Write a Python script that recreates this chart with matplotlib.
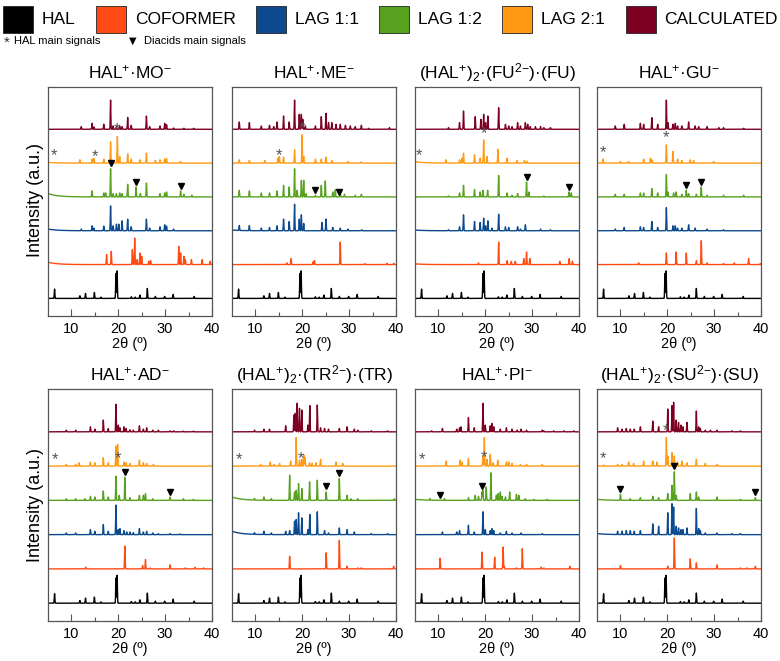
import matplotlib.pyplot as plt
import numpy as np
from matplotlib.patches import Rectangle

plt.rcParams['font.family'] = ['Liberation Sans', 'DejaVu Sans']
plt.rcParams['mathtext.fontset'] = 'custom'
plt.rcParams['mathtext.rm'] = 'Liberation Sans'
plt.rcParams['mathtext.default'] = 'regular'

# series names / colours (bottom to top inside each panel)
series = ["HAL", "COFORMER", "LAG 1:1", "LAG 1:2", "LAG 2:1", "CALCULATED"]
colores = ["#000000", "#ff4a14", "#0b4a8f", "#58a11f", "#ff9a12", "#7d0022"]

# peak lists: (2theta, intensity)
hal = [(6.4, 28), (11.8, 8), (13.0, 15), (14.9, 18), (16.3, 4), (19.5, 75), (19.75, 83), (22.8, 5),
       (23.6, 4), (24.6, 10), (26.2, 30), (27.9, 6), (29.9, 6), (31.7, 12), (36.2, 6)]

mo_calc = [(12.1, 8), (14.4, 18), (14.8, 7), (16.9, 15), (18.35, 88), (18.9, 10), (19.6, 8), (20.3, 10),
           (20.8, 8), (22.0, 36), (22.75, 12), (26.0, 40), (26.7, 8), (28.9, 10), (29.9, 18), (30.3, 14),
           (31.8, 4), (34.0, 3), (36.1, 3)]
mo_l21 = [(11.8, 10), (14.4, 12), (14.8, 14), (16.9, 12), (18.35, 64), (19.8, 80), (20.3, 20), (22.0, 28),
          (22.75, 12), (24.6, 10), (26.0, 30), (27.9, 8), (28.9, 10), (29.9, 12), (30.3, 14), (33.3, 5)]
mo_l12 = [(14.4, 18), (16.9, 12), (17.3, 12), (18.35, 85), (18.9, 10), (19.6, 10), (20.3, 12), (20.8, 10),
          (22.0, 38), (23.8, 30), (24.7, 10), (26.0, 42), (28.9, 10), (29.9, 12), (30.3, 15), (33.3, 18),
          (34.0, 8), (35.7, 5)]
mo_l11 = [(12.1, 5), (14.4, 15), (14.8, 8), (16.9, 14), (18.35, 75), (18.9, 15), (19.6, 20), (20.1, 20),
          (20.8, 30), (22.0, 35), (22.75, 12), (26.0, 35), (26.7, 8), (28.9, 12), (29.9, 18), (30.3, 14),
          (31.8, 5)]
mo_cof = [(17.5, 30), (18.5, 40), (23.0, 45), (23.5, 80), (24.0, 15), (24.6, 35), (25.0, 25), (26.5, 10),
          (26.9, 12), (32.9, 55), (33.3, 35), (34.0, 25), (34.3, 15), (35.6, 15), (37.9, 15), (39.6, 10)]
mo_stars = [6.3, 15.0, 19.8]
mo_tris = [18.35, 23.8, 33.3]
mo_bg = [0, 0.07, 0.05, 0.1, 0.02, 0]

me_calc = [(6.55, 22), (8.7, 20), (11.25, 10), (13.0, 12), (13.9, 8), (14.6, 22), (16.0, 40), (17.2, 22),
           (18.35, 88), (19.35, 45), (19.8, 45), (20.1, 30), (20.65, 10), (22.8, 10), (24.05, 38),
           (25.05, 48), (25.6, 20), (26.3, 20), (27.2, 15), (28.1, 15), (29.2, 12), (30.25, 10), (31.3, 8),
           (32.6, 12), (34.15, 3), (38.6, 5)]
me_l21 = [(6.55, 10), (8.7, 8), (12.0, 8), (14.8, 15), (15.1, 20), (16.0, 18), (18.35, 40), (19.95, 85),
          (20.3, 20), (22.8, 12), (24.05, 12), (25.05, 18), (26.3, 8), (29.75, 5), (32.6, 4)]
me_l12 = [(6.55, 20), (8.7, 18), (11.25, 12), (13.0, 12), (14.6, 18), (16.0, 35), (17.2, 30), (18.35, 85),
          (18.9, 20), (19.8, 50), (20.3, 50), (20.8, 10), (22.8, 5), (24.05, 35), (24.9, 48), (26.5, 15),
          (27.05, 22), (28.1, 12), (29.0, 8), (31.3, 5), (32.6, 8)]
me_l11 = [(6.55, 15), (8.7, 15), (11.25, 8), (13.0, 10), (14.6, 15), (16.0, 35), (17.2, 28), (18.35, 80),
          (19.35, 35), (19.8, 48), (20.3, 22), (24.2, 25), (25.05, 35), (26.5, 10), (28.1, 8), (29.75, 5),
          (32.7, 3)]
me_cof = [(16.7, 5), (17.6, 18), (22.3, 8), (22.6, 12), (28.1, 68), (33.4, 3), (38.1, 4), (39.5, 4)]
me_stars = [14.95, 19.95]
me_tris = [22.8, 27.75]
me_bg = [0, 0, 0.02, 0, 0, 0]

fu_calc = [(12.15, 5), (14.5, 20), (15.35, 55), (17.85, 38), (19.05, 30), (19.65, 45), (20.05, 20),
           (20.55, 40), (22.85, 65), (24.3, 15), (25.0, 10), (25.7, 8), (26.9, 20), (27.5, 10), (28.55, 20),
           (29.05, 15), (29.6, 8), (30.7, 8), (31.8, 8), (32.5, 5), (33.9, 5)]
fu_l21 = [(11.6, 10), (14.5, 10), (15.0, 15), (15.35, 30), (17.7, 25), (18.9, 15), (19.65, 70), (20.35, 20),
          (22.7, 42), (24.65, 15), (26.8, 8), (28.35, 8), (28.9, 5)]
fu_l12 = [(12.15, 3), (14.5, 12), (15.35, 35), (17.7, 22), (18.9, 15), (19.5, 20), (20.5, 20), (22.85, 65),
          (24.65, 12), (25.7, 5), (26.9, 10), (28.8, 45), (29.3, 15), (32.5, 3), (37.85, 15), (38.35, 12)]
fu_l11 = [(12.15, 3), (14.5, 12), (15.35, 48), (17.7, 28), (18.9, 25), (19.65, 38), (20.05, 15), (20.55, 30),
          (21.4, 8), (22.85, 50), (24.3, 12), (25.0, 10), (26.9, 12), (27.5, 5), (28.55, 18), (31.8, 5),
          (33.9, 3)]
fu_cof = [(18.55, 5), (22.85, 68), (24.65, 12), (25.55, 10), (26.4, 10), (28.2, 18), (28.8, 38), (29.5, 18),
          (35.9, 10), (37.9, 18), (38.6, 10)]
fu_stars = [5.9, 19.65]
fu_tris = [28.8, 37.85]
fu_bg = [0, 0.02, 0.02, 0, 0.04, 0]

gu_calc = [(8.9, 10), (10.8, 15), (14.25, 18), (14.95, 15), (16.7, 35), (17.95, 15), (19.8, 88), (20.15, 20),
           (21.2, 15), (21.7, 18), (22.2, 10), (23.1, 10), (24.55, 22), (25.95, 10), (26.7, 8), (28.5, 8),
           (31.0, 5), (32.0, 5), (36.3, 3)]
gu_l21 = [(6.3, 12), (10.0, 5), (11.75, 5), (14.95, 12), (16.4, 15), (16.7, 10), (19.8, 55), (21.2, 35),
          (22.2, 12), (23.1, 8), (24.9, 10), (25.6, 8), (29.9, 5)]
gu_l12 = [(8.9, 8), (10.8, 8), (14.25, 12), (14.95, 12), (16.7, 25), (17.95, 12), (19.8, 68), (20.15, 15),
          (21.35, 12), (21.9, 15), (23.1, 8), (24.05, 20), (24.55, 10), (26.2, 8), (27.25, 30), (28.5, 5),
          (32.0, 5), (36.3, 5)]
gu_l11 = [(8.9, 5), (10.8, 10), (14.25, 12), (14.95, 10), (16.7, 28), (17.95, 10), (19.8, 70), (21.2, 15),
          (21.7, 15), (22.2, 8), (23.1, 8), (24.55, 18), (25.95, 8), (28.5, 5), (32.0, 3)]
gu_cof = [(13.9, 5), (19.8, 35), (21.9, 38), (24.05, 35), (26.2, 12), (27.25, 72), (28.5, 5), (32.0, 3),
          (34.3, 5), (37.35, 18), (39.85, 3)]
gu_stars = [6.3, 19.8]
gu_tris = [24.05, 27.25]
gu_bg = [0, 0, 0, 0, 0, 0]

ad_calc = [(8.9, 5), (10.9, 5), (14.05, 15), (15.0, 8), (16.8, 35), (17.85, 10), (19.5, 82), (20.0, 20),
           (20.35, 12), (21.2, 15), (21.65, 10), (22.5, 6), (23.2, 5), (24.5, 18), (25.35, 8), (26.05, 12),
           (27.35, 5), (28.55, 5), (31.05, 3), (31.8, 3), (33.9, 2), (36.05, 2)]
ad_l21 = [(8.9, 5), (10.9, 5), (11.65, 10), (14.05, 12), (15.0, 10), (16.8, 25), (17.85, 10), (19.5, 60),
          (19.85, 65), (21.2, 12), (21.65, 10), (22.5, 8), (24.5, 18), (25.35, 10), (26.05, 8), (27.5, 5)]
ad_l12 = [(8.9, 5), (10.9, 5), (12.85, 5), (14.05, 12), (15.0, 10), (16.8, 28), (17.85, 10), (19.5, 72),
          (20.2, 15), (21.4, 68), (22.5, 8), (24.5, 15), (25.35, 15), (25.8, 20), (27.35, 5), (31.05, 10),
          (33.9, 5), (36.05, 3)]
ad_l11 = [(8.9, 5), (10.9, 5), (14.05, 15), (15.0, 10), (16.8, 30), (17.85, 10), (19.5, 88), (20.0, 15),
          (20.35, 18), (21.2, 12), (21.8, 8), (22.5, 8), (23.2, 6), (24.5, 18), (25.35, 8), (26.05, 10),
          (27.35, 5), (28.55, 3), (31.05, 3), (33.2, 2)]
ad_cof = [(13.05, 5), (21.4, 68), (25.2, 10), (25.8, 28), (26.8, 3), (31.05, 12), (34.3, 3), (36.4, 5),
          (38.2, 3)]
ad_stars = [6.4, 20.0]
ad_tris = [21.4, 31.05]
ad_bg = [0, 0, 0, 0, 0, 0]

tr_calc = [(9.8, 5), (11.8, 8), (13.0, 8), (16.45, 18), (18.2, 50), (18.5, 55), (18.9, 85), (19.4, 70),
           (19.9, 65), (21.2, 20), (21.6, 78), (23.2, 80), (23.9, 12), (24.75, 10), (25.6, 8), (27.9, 10),
           (29.55, 15), (31.1, 8), (31.85, 5), (34.7, 3), (38.2, 3)]
tr_l21 = [(11.1, 5), (13.15, 12), (13.95, 5), (15.15, 8), (17.5, 15), (18.7, 85), (19.4, 18), (19.9, 20),
          (20.35, 32), (20.6, 25), (21.55, 10), (22.1, 8), (22.95, 10), (23.9, 20), (27.2, 12), (28.65, 8)]
tr_l12 = [(9.8, 5), (11.8, 10), (13.4, 5), (17.3, 75), (18.35, 25), (18.7, 30), (19.2, 50), (19.9, 35),
          (21.55, 55), (23.2, 60), (25.1, 25), (27.9, 65), (29.55, 15), (30.4, 5), (31.85, 5), (39.65, 5)]
tr_l11 = [(9.8, 5), (11.8, 10), (13.4, 5), (16.45, 10), (17.3, 12), (18.35, 40), (18.7, 45), (19.2, 65),
          (19.9, 50), (21.2, 15), (21.6, 60), (23.2, 68), (24.75, 12), (25.6, 5), (27.9, 20), (29.55, 15),
          (31.1, 8), (34.7, 3), (38.2, 3)]
tr_cof = [(17.3, 38), (25.1, 48), (27.9, 85), (29.55, 8), (31.85, 3), (32.55, 3), (39.5, 8)]
tr_stars = [6.4, 19.75]
tr_tris = [25.1, 27.9]
tr_bg = [0, 0, 0.1, 0.1, 0, 0]

pi_calc = [(8.55, 3), (10.85, 10), (13.9, 8), (14.5, 12), (14.8, 15), (16.4, 42), (17.65, 12), (19.5, 85),
           (20.0, 20), (21.05, 18), (21.4, 25), (21.8, 15), (23.2, 8), (24.5, 12), (25.7, 8), (26.8, 5),
           (27.65, 8), (28.8, 5), (32.15, 5), (32.5, 3), (34.6, 3), (36.8, 3), (38.9, 3)]
pi_l21 = [(11.65, 15), (14.65, 18), (15.0, 12), (16.4, 22), (19.5, 30), (19.8, 85), (20.35, 20), (21.05, 35),
          (21.65, 10), (22.65, 18), (24.5, 12), (25.0, 12), (25.7, 8), (27.5, 5), (28.8, 5), (32.15, 5)]
pi_l12 = [(8.2, 5), (11.3, 5), (16.4, 8), (17.85, 15), (18.55, 12), (19.3, 25), (19.5, 30), (20.2, 40),
          (21.2, 82), (22.35, 15), (22.7, 20), (23.2, 25), (23.55, 12), (24.3, 10), (25.2, 25), (26.65, 18),
          (27.15, 15), (28.55, 5), (30.35, 3), (33.2, 3)]
pi_l11 = [(10.85, 8), (13.9, 8), (14.5, 12), (16.4, 28), (17.65, 8), (19.5, 68), (20.0, 15), (21.05, 12),
          (21.4, 18), (21.8, 12), (23.2, 5), (24.5, 10), (25.7, 5), (27.65, 5), (32.15, 3)]
pi_cof = [(10.35, 32), (19.3, 50), (22.0, 35), (23.8, 65), (24.05, 8), (26.65, 3), (27.9, 60), (31.9, 5),
          (32.5, 3), (38.05, 8)]
pi_stars = [6.45, 19.65]
pi_tris = [10.35, 19.3]
pi_bg = [0, 0, 0, 0.03, 0, 0]

su_calc = [(9.4, 12), (10.35, 8), (11.25, 10), (12.1, 8), (12.95, 8), (14.25, 15), (16.9, 32), (18.15, 15),
           (20.1, 68), (21.0, 78), (21.35, 88), (21.9, 35), (22.4, 28), (22.9, 20), (23.35, 15), (24.2, 28),
           (26.2, 62), (26.7, 15), (27.05, 10), (28.1, 5), (29.2, 5), (30.6, 5), (33.8, 3), (35.6, 3)]
su_l21 = [(6.4, 3), (9.4, 5), (10.35, 5), (11.75, 12), (12.8, 8), (14.95, 15), (16.9, 15), (17.8, 12),
          (19.8, 85), (20.1, 30), (21.0, 40), (21.5, 30), (22.2, 12), (23.1, 15), (24.2, 10), (26.2, 20),
          (28.1, 8), (30.6, 5)]
su_l12 = [(10.0, 18), (12.1, 5), (14.25, 8), (16.9, 12), (18.15, 8), (20.1, 20), (21.0, 45), (21.5, 85),
          (21.9, 15), (24.9, 20), (26.2, 25), (26.7, 10), (30.6, 10), (35.6, 3), (38.8, 8)]
su_l11 = [(9.4, 10), (10.35, 10), (11.25, 12), (12.1, 12), (12.95, 10), (14.25, 12), (16.9, 32), (18.15, 25),
          (20.1, 65), (21.0, 92), (21.35, 82), (21.9, 25), (22.4, 20), (22.9, 15), (23.35, 15), (24.2, 20),
          (26.2, 78), (26.7, 18), (27.05, 12), (28.1, 5), (30.6, 5), (33.8, 3), (35.6, 3)]
su_cof = [(10.0, 10), (20.1, 8), (21.5, 92), (24.9, 30), (26.2, 18), (30.6, 12), (35.6, 3), (37.0, 3),
          (38.8, 8)]
su_stars = [6.3, 19.8]
su_tris = [10.0, 21.5, 38.8]
su_bg = [0, 0, 0.03, 0.03, 0, 0]

titulos = ["HAL$^{+}$·MO$^{{-}}$", "HAL$^{+}$·ME$^{{-}}$", "(HAL$^{+}$)$_{2}$·(FU$^{2{-}}$)·(FU)",
           "HAL$^{+}$·GU$^{{-}}$", "HAL$^{+}$·AD$^{{-}}$", "(HAL$^{+}$)$_{2}$·(TR$^{2{-}}$)·(TR)",
           "HAL$^{+}$·PI$^{{-}}$", "(HAL$^{+}$)$_{2}$·(SU$^{2{-}}$)·(SU)"]

paineis = [
    ([hal, mo_cof, mo_l11, mo_l12, mo_l21, mo_calc], mo_stars, mo_tris, mo_bg),
    ([hal, me_cof, me_l11, me_l12, me_l21, me_calc], me_stars, me_tris, me_bg),
    ([hal, fu_cof, fu_l11, fu_l12, fu_l21, fu_calc], fu_stars, fu_tris, fu_bg),
    ([hal, gu_cof, gu_l11, gu_l12, gu_l21, gu_calc], gu_stars, gu_tris, gu_bg),
    ([hal, ad_cof, ad_l11, ad_l12, ad_l21, ad_calc], ad_stars, ad_tris, ad_bg),
    ([hal, tr_cof, tr_l11, tr_l12, tr_l21, tr_calc], tr_stars, tr_tris, tr_bg),
    ([hal, pi_cof, pi_l11, pi_l12, pi_l21, pi_calc], pi_stars, pi_tris, pi_bg),
    ([hal, su_cof, su_l11, su_l12, su_l21, su_calc], su_stars, su_tris, su_bg),
]

tt = np.arange(5, 40.001, 0.01)


def difratograma(picos, bg=0.0):
    y = np.zeros_like(tt)
    for pos, h in picos:
        y += h * np.exp(-0.5 * ((tt - pos) / 0.06) ** 2)
    y = y / 102.0
    y += bg * np.exp(-(tt - 5) / 2.0)
    return y


W, H = 780, 661
fig = plt.figure(figsize=(W / 100, H / 100), dpi=100)

lefts = [48, 232, 415, 597]
largura = 164
linhas = [(87, 316), (389, 621)]

cor_frame = "#555555"

for i, (traces, stars, tris, bg) in enumerate(paineis):
    row, col = divmod(i, 4)
    top, bot = linhas[row]
    ax = fig.add_axes([lefts[col] / W, 1 - bot / H, largura / W, (bot - top) / H])

    for k, picos in enumerate(traces):
        y = difratograma(picos, bg[k]) + k
        ax.plot(tt, y, color=colores[k], lw=1.0, zorder=2)
        if k == 4:
            for s in stars:
                ys = np.interp(s, tt, y)
                ax.text(s, ys + 0.2, "*", ha="center", va="center", color="#555555", fontsize=12, zorder=5)
        if k == 3:
            for t in tris:
                yt = np.interp(t, tt, y)
                ax.plot(t, yt + 0.16, marker="v", color="black", ms=4, zorder=5)

    ax.set_xlim(5, 40)
    ax.set_ylim(-0.52, 6.25)
    ax.set_yticks([])
    ax.set_xticks([10, 20, 30, 40])
    ax.set_xticks([15, 25, 35], minor=True)
    ax.tick_params(axis="x", which="major", direction="in", length=5, width=0.8, colors=cor_frame,
                   labelcolor="black", labelsize=10.5, pad=4)
    ax.tick_params(axis="x", which="minor", direction="in", length=3, width=0.8, colors=cor_frame)
    for sp in ax.spines.values():
        sp.set_color(cor_frame)
        sp.set_linewidth(0.9)
    ax.set_xlabel("2θ (º)", fontsize=10.5, labelpad=1)
    ax.set_title(titulos[i], fontsize=12.5, pad=6)

# y labels
fig.text(35 / W, 1 - 200 / H, "Intensity (a.u.)", rotation=90, ha="center", va="center", fontsize=13)
fig.text(35 / W, 1 - 505 / H, "Intensity (a.u.)", rotation=90, ha="center", va="center", fontsize=13)

# legend on top: squares + labels spread over the full width
renderer = fig.canvas.get_renderer()
textos = []
for k in range(6):
    textos.append(fig.text(0, 1 - 20 / H, series[k], ha="left", va="center", fontsize=12.5))
larg_txt = [t.get_window_extent(renderer).width for t in textos]
sq, gap_in = 30, 9
total = sum(larg_txt) + 6 * (sq + gap_in)
gap = (778 - 3 - total) / 5
x = 3
for k in range(6):
    fig.add_artist(Rectangle((x / W, 1 - 33 / H), sq / W, 27 / H, facecolor=colores[k],
                             edgecolor="#222222", lw=0.6, transform=fig.transFigure))
    textos[k].set_x((x + sq + gap_in) / W)
    x += sq + gap_in + larg_txt[k] + gap

fig.text(4 / W, 1 - 43 / H, "*", ha="left", va="center", fontsize=11, color="#333333")
fig.text(14 / W, 1 - 41 / H, "HAL main signals", ha="left", va="center", fontsize=8)
fig.text(129 / W, 1 - 41 / H, "▼", ha="left", va="center", fontsize=7, family="DejaVu Sans")
fig.text(144 / W, 1 - 41 / H, "Diacids main signals", ha="left", va="center", fontsize=8)

fig.savefig("out.png", dpi=100)
